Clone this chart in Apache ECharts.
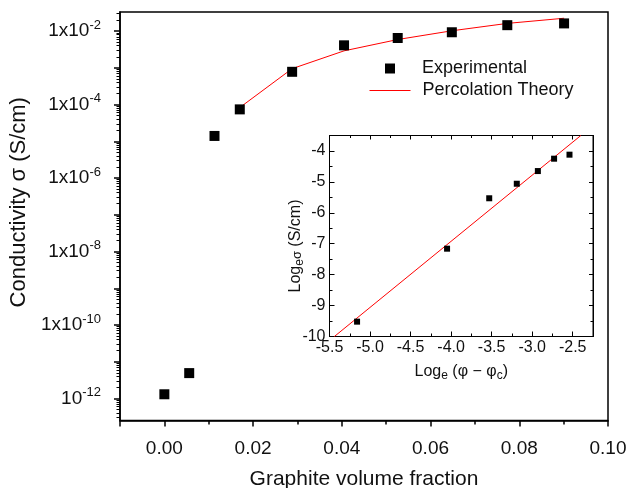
<!DOCTYPE html>
<html>
<head>
<meta charset="utf-8">
<script src="https://cdn.jsdelivr.net/npm/echarts@6/dist/echarts.min.js"></script>
<style>
html,body{margin:0;padding:0;background:#fff;}
#chart{width:631px;height:488px;}
</style>
</head>
<body>
<div id="chart"></div>
<script>
// ---- Main plot data ----
const phiExp = [0.0000, 0.0056, 0.0113, 0.0170, 0.0288, 0.0405, 0.0526, 0.0648, 0.0773, 0.0901];
const sigmaExp = [1.3e-12, 4.9e-12, 1.4e-5, 7.4e-5, 7.8e-4, 4.1e-3, 6.5e-3, 9.3e-3, 1.45e-2, 1.62e-2];
const phiTheory = [0.0170, 0.0288, 0.0405, 0.0526, 0.0648, 0.0773, 0.0901];
const sigmaTheory = [8.3e-5, 9.5e-4, 2.9e-3, 5.9e-3, 1.02e-2, 1.62e-2, 2.24e-2];
const xLabelValues = [0.00, 0.02, 0.04, 0.06, 0.08, 0.10];
const yLabelExponents = [-12, -10, -8, -6, -4, -2];

// ---- Inset data ----
const lnPhiDiff = [-5.16, -4.05, -3.53, -3.19, -2.93, -2.73, -2.54];
const lnSigma = [-9.52, -7.16, -5.53, -5.06, -4.65, -4.25, -4.12];
const fitX = [-5.44, -2.40];
const fitY = [-10.0, -3.5];

const mainYMin = -12.6, mainYMax = -1.48;
const yMajorTicks = [];
for (let n = -12; n <= -2; n++) yMajorTicks.push(n);
const yMinorTicks = [];
for (let n = -13; n <= -2; n++) {
  for (let k = 2; k <= 9; k++) {
    const v = n + Math.log10(k);
    if (v >= mainYMin && v <= mainYMax) yMinorTicks.push(v);
  }
}
const xMajorTicks = [-0.01, 0, 0.02, 0.04, 0.06, 0.08, 0.10];
const xMinorTicks = [0.01, 0.03, 0.05, 0.07, 0.09];

const FONT = '"Liberation Sans", Arial, sans-serif';
const black = '#000';

const chart = echarts.init(document.getElementById('chart'), null, {renderer: 'canvas'});

const mainGrid = {left: 120, top: 12, right: 23, bottom: 67.5, show: true, borderColor: black, borderWidth: 1.5,
  backgroundColor: 'transparent', outerBoundsMode: 'none', containLabel: false};
const insetGrid = {left: 329.5, top: 135.5, right: 38, bottom: 151.5, show: true, borderColor: black, borderWidth: 1,
  backgroundColor: '#fff', outerBoundsMode: 'none', containLabel: false};

const option = {
  animation: false,
  backgroundColor: '#fff',
  textStyle: {fontFamily: FONT},
  grid: [mainGrid, insetGrid],
  legend: [
    {
      data: [{name: 'Experimental', icon: 'rect', itemStyle: {color: black, opacity: 1}}],
      left: 385, top: 59.5, padding: 0,
      itemWidth: 10, itemHeight: 10,
      textStyle: {fontFamily: FONT, fontSize: 18, color: '#111', padding: [0, 0, 0, 22]},
      selectedMode: false
    },
    {
      data: [{name: 'Percolation Theory', itemStyle: {opacity: 0}, lineStyle: {color: '#ff0000', width: 1}}],
      left: 369, top: 81.5, padding: 0,
      itemWidth: 41, itemHeight: 10,
      textStyle: {fontFamily: FONT, fontSize: 18, color: '#111', padding: [0, 0, 0, 7]},
      selectedMode: false
    }
  ],
  xAxis: [
    {
      type: 'value', gridIndex: 0, position: 'bottom', min: -0.01, max: 0.10,
      name: 'Graphite volume fraction', nameLocation: 'middle', nameGap: 48,
      nameTextStyle: {fontFamily: FONT, fontSize: 21, color: '#111'},
      axisLine: {onZero: false, lineStyle: {color: black, width: 1.5}},
      axisTick: {show: true, inside: false, length: 6, customValues: xMajorTicks, lineStyle: {color: black, width: 1.5}},
      axisLabel: {customValues: xLabelValues, margin: 19, fontSize: 19, color: '#111', fontFamily: FONT,
        formatter: v => v.toFixed(2)},
      splitLine: {show: false}
    },
    {
      type: 'value', gridIndex: 0, position: 'bottom', min: -0.01, max: 0.10,
      axisLine: {show: false, onZero: false},
      axisTick: {show: true, inside: false, length: 4, customValues: xMinorTicks, lineStyle: {color: black, width: 1.5}},
      axisLabel: {show: false},
      splitLine: {show: false}
    },
    {
      type: 'value', gridIndex: 1, position: 'bottom', min: -5.5, max: -2.25, interval: 0.5,
      name: '{t|Log}{s|e}{t| (φ − φ}{s|c}{t|)}', nameLocation: 'middle', nameGap: 26,
      nameTextStyle: {rich: {
        t: {fontFamily: FONT, fontSize: 16, color: '#111', lineHeight: 18},
        s: {fontFamily: FONT, fontSize: 12, color: '#111', lineHeight: 14, padding: [8, 0, 0, 0]}
      }},
      axisLine: {onZero: false, lineStyle: {color: black, width: 1}},
      axisTick: {show: true, inside: true, length: 5, lineStyle: {color: black}},
      minorTick: {show: true, splitNumber: 2, length: 3, lineStyle: {color: black}},
      axisLabel: {margin: 3, fontSize: 16, color: '#111', fontFamily: FONT, formatter: v => v.toFixed(1)},
      splitLine: {show: false}
    },
    {
      type: 'value', gridIndex: 1, position: 'top', min: -5.5, max: -2.25, interval: 0.5,
      axisLine: {onZero: false, lineStyle: {color: black, width: 1}},
      axisTick: {show: true, inside: true, length: 4, lineStyle: {color: black}},
      minorTick: {show: true, splitNumber: 2, length: 2.5, lineStyle: {color: black}},
      axisLabel: {show: false},
      splitLine: {show: false}
    }
  ],
  yAxis: [
    {
      type: 'value', gridIndex: 0, position: 'left', min: mainYMin, max: mainYMax,
      name: 'Conductivity σ (S/cm)', nameLocation: 'middle', nameGap: 89,
      nameTextStyle: {fontFamily: FONT, fontSize: 22, color: '#111', padding: [0, 0, 0, 28]},
      axisLine: {onZero: false, lineStyle: {color: black, width: 1.5}},
      axisTick: {show: true, inside: false, length: 6, customValues: yMajorTicks, lineStyle: {color: black, width: 1.5}},
      axisLabel: {
        customValues: yLabelExponents, margin: 19, color: '#111',
        formatter: v => (v === -12 ? '{b|10}' : '{b|1x10}') + '{s|' + v + '}',
        rich: {
          b: {fontFamily: FONT, fontSize: 19, color: '#111', lineHeight: 22},
          s: {fontFamily: FONT, fontSize: 13, color: '#111', lineHeight: 14, padding: [0, 0, 12, 0]}
        }
      },
      splitLine: {show: false}
    },
    {
      type: 'value', gridIndex: 0, position: 'left', min: mainYMin, max: mainYMax,
      axisLine: {show: false, onZero: false},
      axisTick: {show: true, inside: false, length: 3.5, customValues: yMinorTicks, lineStyle: {color: black, width: 1}},
      axisLabel: {show: false},
      splitLine: {show: false}
    },
    {
      type: 'value', gridIndex: 1, position: 'left', min: -10, max: -3.5, interval: 1,
      name: '{t|Log}{s|e}{m|σ}{t| (S/cm)}', nameLocation: 'middle', nameGap: 25, nameMoveOverlap: false,
      nameTextStyle: {padding: [0, 20, 0, 0], rich: {
        t: {fontFamily: FONT, fontSize: 16, color: '#111', lineHeight: 18},
        s: {fontFamily: FONT, fontSize: 12, color: '#111', lineHeight: 14, padding: [8, 0, 0, 0]},
        m: {fontFamily: FONT, fontSize: 13, color: '#111', lineHeight: 14, padding: [3, 0, 0, 0]}
      }},
      axisLine: {onZero: false, lineStyle: {color: black, width: 1}},
      axisTick: {show: true, inside: true, length: 5, lineStyle: {color: black}},
      minorTick: {show: true, splitNumber: 2, length: 3, lineStyle: {color: black}},
      axisLabel: {margin: 4, fontSize: 16, color: '#111', fontFamily: FONT, formatter: v => String(v)},
      splitLine: {show: false}
    },
    {
      type: 'value', gridIndex: 1, position: 'right', min: -10, max: -3.5, interval: 1,
      axisLine: {onZero: false, lineStyle: {color: black, width: 1}},
      axisTick: {show: true, inside: true, length: 4, lineStyle: {color: black}},
      minorTick: {show: true, splitNumber: 2, length: 2.5, lineStyle: {color: black}},
      axisLabel: {show: false},
      splitLine: {show: false}
    }
  ],
  series: [
    {
      name: 'Percolation Theory', type: 'line', xAxisIndex: 0, yAxisIndex: 0,
      data: phiTheory.map((x, i) => [x, Math.log10(sigmaTheory[i])]),
      showSymbol: false, symbol: 'none', lineStyle: {color: '#ff0000', width: 1}, itemStyle: {color: '#ff0000'},
      z: 2
    },
    {
      name: 'Experimental', type: 'scatter', xAxisIndex: 0, yAxisIndex: 0,
      data: phiExp.map((x, i) => [x, Math.log10(sigmaExp[i])]),
      symbol: 'rect', symbolSize: 10, itemStyle: {color: black, opacity: 1}, z: 3
    },
    {
      name: 'fit', type: 'line', xAxisIndex: 2, yAxisIndex: 2,
      data: fitX.map((x, i) => [x, fitY[i]]),
      showSymbol: false, symbol: 'none', lineStyle: {color: '#ff0000', width: 1}, z: 2
    },
    {
      name: 'insetExp', type: 'scatter', xAxisIndex: 2, yAxisIndex: 2,
      data: lnPhiDiff.map((x, i) => [x, lnSigma[i]]),
      symbol: 'rect', symbolSize: 6, itemStyle: {color: black, opacity: 1}, z: 3
    }
  ]
};
chart.setOption(option);
</script>
</body>
</html>
